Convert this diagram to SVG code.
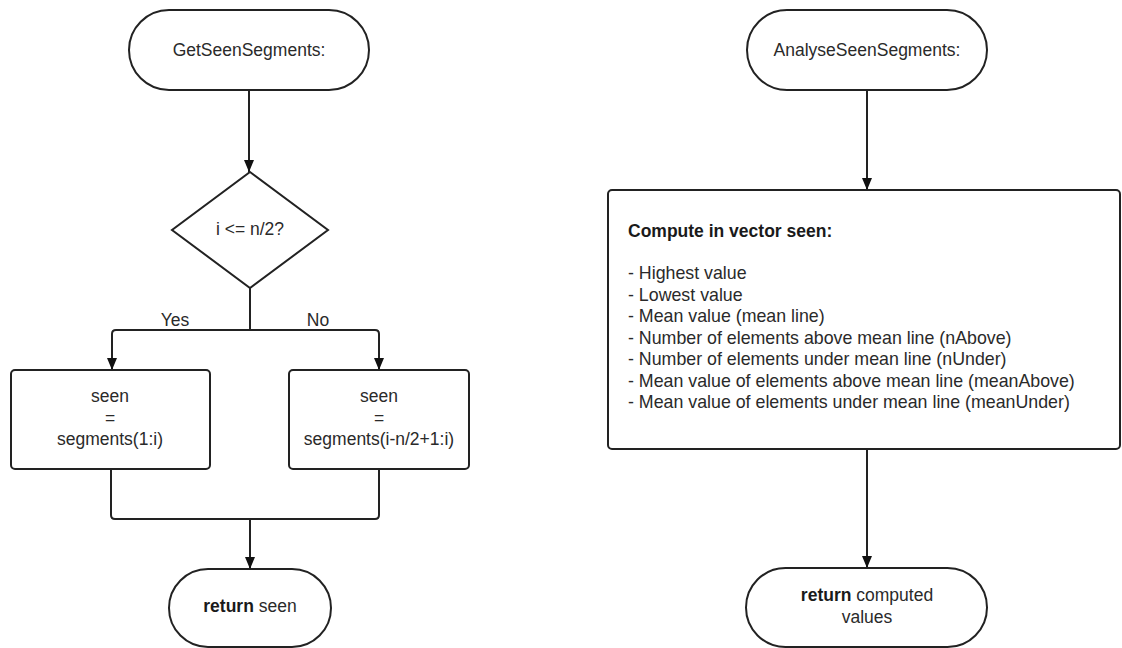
<svg xmlns="http://www.w3.org/2000/svg" width="1122" height="648" viewBox="0 0 1122 648">
<defs>
<style>
.shape{fill:#fff;stroke:#222;stroke-width:2}
.edge{fill:none;stroke:#222;stroke-width:2}
text{font-family:"Liberation Sans",Arial,sans-serif;font-size:17.5px;fill:#2a2a2a}
.c{text-anchor:middle}
.b{font-weight:bold;fill:#1a1a1a}
.l{font-size:17.8px}
</style>
<marker id="arr" markerWidth="12" markerHeight="12" viewBox="0 0 12 12" refX="12" refY="6" orient="auto" markerUnits="userSpaceOnUse">
<path d="M0,1 L12,6 L0,11 z" fill="#111"/>
</marker>
</defs>
<rect width="1122" height="648" fill="#fff"/>
<g id="connectors">
<path class="edge" d="M249,90 V172" marker-end="url(#arr)"/>
<path class="edge" d="M250,288 V330 H116 Q112,330 112,334 V370" marker-end="url(#arr)"/>
<path class="edge" d="M250,330 H375 Q379,330 379,334 V370" marker-end="url(#arr)"/>
<path class="edge" d="M111,469 V515 Q111,519 115,519 H375 Q379,519 379,515 V469"/>
<path class="edge" d="M250,519 V569" marker-end="url(#arr)"/>
<path class="edge" d="M867,90 V190" marker-end="url(#arr)"/>
<path class="edge" d="M867,449 V568" marker-end="url(#arr)"/>
</g>
<g id="start1">
<rect class="shape" x="129" y="10" width="240" height="80" rx="40"/>
<text class="c" x="249" y="56">GetSeenSegments:</text>
</g>
<g id="decision">
<polygon class="shape" points="250,172 328,230 250,288 172,230"/>
<text class="c" x="250" y="235">i &lt;= n/2?</text>
</g>
<g id="labels">
<text class="c" x="175" y="326">Yes</text>
<text class="c" x="318" y="326">No</text>
</g>
<g id="yesBox">
<rect class="shape" x="11" y="370" width="199" height="99" rx="4"/>
<text class="c" x="110" y="402">seen</text>
<text class="c" x="110" y="423.5">=</text>
<text class="c" x="110" y="445">segments(1:i)</text>
</g>
<g id="noBox">
<rect class="shape" x="289" y="370" width="180" height="99" rx="4"/>
<text class="c" x="379" y="402">seen</text>
<text class="c" x="379" y="423.5">=</text>
<text class="c" x="379" y="445">segments(i-n/2+1:i)</text>
</g>
<g id="end1">
<rect class="shape" x="169" y="569" width="162" height="78" rx="39"/>
<text class="c" x="250" y="612"><tspan class="b">return</tspan> seen</text>
</g>
<g id="start2">
<rect class="shape" x="747" y="10" width="240" height="80" rx="40"/>
<text class="c" x="867" y="56">AnalyseSeenSegments:</text>
</g>
<g id="computeBox">
<rect class="shape" x="608" y="190" width="512" height="259" rx="4"/>
<text class="b" x="628" y="237">Compute in vector seen:</text>
<text class="l" x="628" y="279">- Highest value</text>
<text class="l" x="628" y="300.5">- Lowest value</text>
<text class="l" x="628" y="322">- Mean value (mean line)</text>
<text class="l" x="628" y="343.5">- Number of elements above mean line (nAbove)</text>
<text class="l" x="628" y="365">- Number of elements under mean line (nUnder)</text>
<text class="l" x="628" y="386.5">- Mean value of elements above mean line (meanAbove)</text>
<text class="l" x="628" y="408">- Mean value of elements under mean line (meanUnder)</text>
</g>
<g id="end2">
<rect class="shape" x="746" y="568" width="241" height="79" rx="39.5"/>
<text class="c" x="867" y="601"><tspan class="b">return</tspan> computed</text>
<text class="c" x="867" y="623">values</text>
</g>
</svg>
